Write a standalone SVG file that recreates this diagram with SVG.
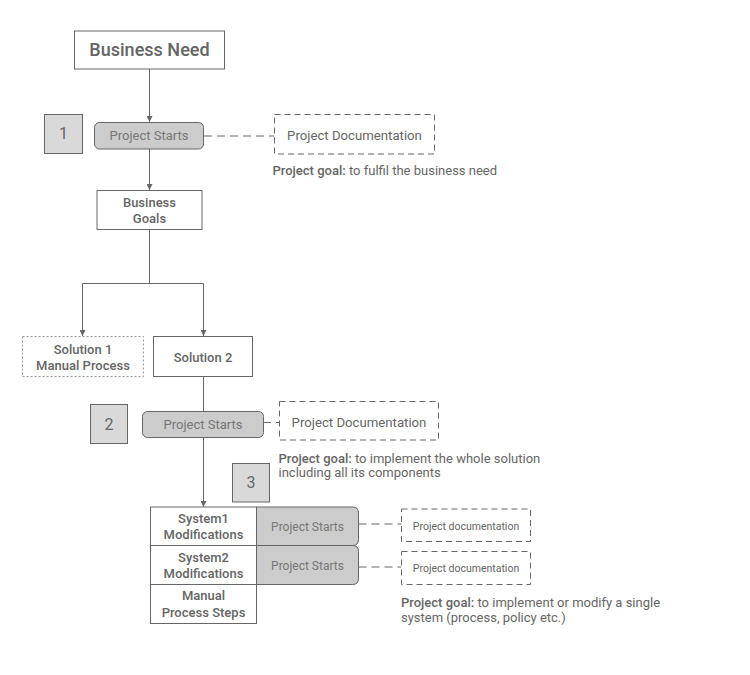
<svg xmlns="http://www.w3.org/2000/svg" width="750" height="675" viewBox="0 0 750 675">
<defs>
<marker id="arr" markerWidth="6" markerHeight="6" refX="6" refY="3" orient="auto" markerUnits="userSpaceOnUse">
<path d="M0,0 L6,3 L0,6 z" fill="#666"/>
</marker>
<style>
.box{fill:#fff;stroke:#666;stroke-width:1}
.num{fill:#d9d9d9;stroke:#666;stroke-width:1}
.ps{fill:#ccc;stroke:#666;stroke-width:1}
.doc{fill:#fff;stroke:#666;stroke-width:1;stroke-dasharray:6,4}
.dot{fill:#fff;stroke:#999;stroke-width:1;stroke-dasharray:2,2}
.ln{fill:none;stroke:#666;stroke-width:1}
.dl{fill:none;stroke:#666;stroke-width:1;stroke-dasharray:8,5}
text{font-family:Roboto,"Liberation Sans",sans-serif;fill:#666}
.lbl{font-family:"Roboto Medium",Roboto,"Liberation Sans",sans-serif;font-size:13px;font-weight:500;text-anchor:middle}
.pst{font-size:13px;fill:#777;text-anchor:middle}
.n{font-size:16px;text-anchor:middle}
.g{font-size:13px}
.g tspan.b{font-family:"Roboto Medium",Roboto,"Liberation Sans",sans-serif;font-weight:500}
.dt{font-size:13.2px;text-anchor:middle}
.ds{font-size:10.5px;text-anchor:middle}
</style>
</defs>
<rect width="750" height="675" fill="#fff"/>
<g id="connectors">
<path class="ln" d="M149.5,69 V122" marker-end="url(#arr)"/>
<path class="ln" d="M149.5,149 V190" marker-end="url(#arr)"/>
<path class="ln" d="M149.5,229 V283.5 H82.5 V336" marker-end="url(#arr)"/>
<path class="ln" d="M149.5,283.5 H203.5 V336" marker-end="url(#arr)"/>
<path class="ln" d="M203.5,376 V411.5"/>
<path class="ln" d="M203.5,437 V507" marker-end="url(#arr)"/>
<path class="dl" d="M204,136 H274"/>
<path class="dl" d="M263,422.5 H279.5"/>
<path class="dl" d="M358.5,524 H401.5"/>
<path class="dl" d="M358.5,567 H401.5"/>
</g>
<g id="business-need">
<rect class="box" x="74.5" y="31" width="150" height="38"/>
<text x="149.5" y="56" style="font-family:'Roboto Medium',Roboto,'Liberation Sans',sans-serif;font-size:18px;font-weight:500;text-anchor:middle">Business Need</text>
</g>
<g id="step1">
<rect class="num" x="44.5" y="114.5" width="38" height="39"/>
<text class="n" x="63.5" y="139">1</text>
</g>
<g id="project-starts-1">
<rect class="ps" x="94.5" y="122.5" width="109" height="26.5" rx="5"/>
<text class="pst" x="149" y="140">Project Starts</text>
</g>
<g id="doc1">
<rect class="doc" x="274.5" y="114.5" width="160" height="39.5"/>
<text class="dt" x="354.5" y="139.5">Project Documentation</text>
</g>
<text class="g" x="272.5" y="174.5"><tspan class="b">Project goal:</tspan> to fulfil the business need</text>
<g id="business-goals">
<rect class="box" x="97" y="190.5" width="105" height="39"/>
<text class="lbl" x="149.5" y="207">Business</text>
<text class="lbl" x="149.5" y="223">Goals</text>
</g>
<g id="solution1">
<rect class="dot" x="22.5" y="336.5" width="121" height="40"/>
<text class="lbl" x="83" y="354">Solution 1</text>
<text class="lbl" x="83" y="369.5">Manual Process</text>
</g>
<g id="solution2">
<rect class="box" x="153.5" y="336.5" width="99" height="40"/>
<text class="lbl" x="203" y="362">Solution 2</text>
</g>
<g id="step2">
<rect class="num" x="90.5" y="404.5" width="37" height="39"/>
<text class="n" x="109" y="429.5">2</text>
</g>
<g id="project-starts-2">
<rect class="ps" x="142.5" y="411.5" width="121" height="26" rx="5"/>
<text class="pst" x="203" y="429">Project Starts</text>
</g>
<g id="doc2">
<rect class="doc" x="279.5" y="401.5" width="159" height="38.5"/>
<text class="dt" x="359" y="426.5">Project Documentation</text>
</g>
<text class="g" x="278.5" y="462.5"><tspan class="b">Project goal:</tspan> to implement the whole solution</text>
<text class="g" x="278.5" y="477">including all its components</text>
<g id="step3">
<rect class="num" x="232.5" y="463.5" width="37" height="38.5"/>
<text class="n" x="251" y="488">3</text>
</g>
<g id="system1">
<rect class="box" x="150.5" y="507" width="106" height="38.5"/>
<text class="lbl" x="203.5" y="522.5">System1</text>
<text class="lbl" x="203.5" y="538.5">Modifications</text>
</g>
<g id="project-starts-3a">
<path class="ps" d="M256.5,507 H352.5 Q358.5,507 358.5,513 V539.5 Q358.5,545.5 352.5,545.5 H256.5 Z"/>
<text class="pst" x="307.5" y="531" style="font-size:12px">Project Starts</text>
</g>
<g id="system2">
<rect class="box" x="150.5" y="545.5" width="106" height="39"/>
<text class="lbl" x="203.5" y="562">System2</text>
<text class="lbl" x="203.5" y="578">Modifications</text>
</g>
<g id="project-starts-3b">
<path class="ps" d="M256.5,545.5 H352.5 Q358.5,545.5 358.5,551.5 V578.5 Q358.5,584.5 352.5,584.5 H256.5 Z"/>
<text class="pst" x="307.5" y="570" style="font-size:12px">Project Starts</text>
</g>
<g id="manual-steps">
<rect class="box" x="150.5" y="584.5" width="106" height="39"/>
<text class="lbl" x="203.5" y="599.5">Manual</text>
<text class="lbl" x="203.5" y="617">Process Steps</text>
</g>
<g id="doc3a">
<rect class="doc" x="401.5" y="509" width="129" height="32.5"/>
<text class="ds" x="466" y="529.5">Project documentation</text>
</g>
<g id="doc3b">
<rect class="doc" x="401.5" y="551.5" width="129" height="33"/>
<text class="ds" x="466" y="571.5">Project documentation</text>
</g>
<text class="g" x="401" y="606.5"><tspan class="b">Project goal:</tspan> to implement or modify a single</text>
<text class="g" x="401" y="621.5">system (process, policy etc.)</text>
</svg>
